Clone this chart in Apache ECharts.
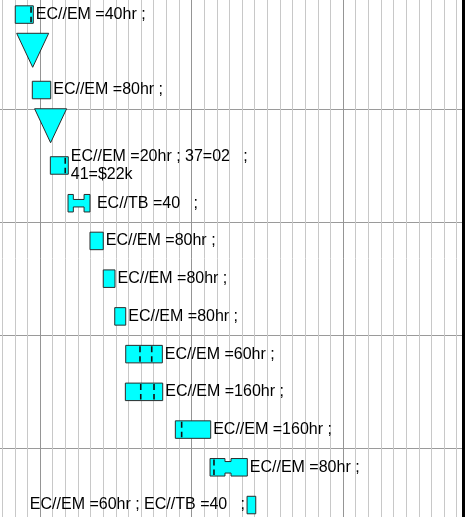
<!DOCTYPE html>
<html><head><meta charset="utf-8">
<script src="https://cdn.jsdelivr.net/npm/echarts@6/dist/echarts.min.js"></script>
<style>html,body{margin:0;padding:0;background:#fff}#c{width:471px;height:517px}</style>
</head><body><div id="c"></div>
<script>
// Rows (top to bottom)
const rowIds = ['R1','R2','R3','R4','R5','R6','R7','R8','R9','R10','R11','R12','R13','R14'];
const kinds  = ['bar','milestone','bar','milestone','bar','bar','bar','bar','bar','bar','bar','bar','bar','bar'];
const labels = [
  'EC//EM =40hr ;', '', 'EC//EM =80hr ;', '',
  'EC//EM =20hr ; 37=02   ;\n41=$22k',
  ' EC//TB =40   ;',
  'EC//EM =80hr ;', 'EC//EM =80hr ;', 'EC//EM =80hr ;',
  'EC//EM =60hr ;', 'EC//EM =160hr ;', 'EC//EM =160hr ;', 'EC//EM =80hr ;',
  'EC//EM =60hr ; EC//TB =40   ;'
];
// time in weeks (0 = major grid line)
const starts = [-1.96, -0.58, -0.61, 0.84, 0.82, 2.22, 3.96, 5.01, 5.92, 6.79, 6.76, 10.72, 13.47, 16.40];
const ends   = [-0.53, -0.58,  0.85, 0.84, 2.24, 3.96, 5.01, 5.94, 6.79, 9.69, 9.72, 13.52, 16.42, 17.09];
const splitMarks = [[-0.71], [], [], [], [2.0], [], [], [], [], [7.92, 8.85], [7.98, 9.03], [11.22], [13.78], []];
const notches = [null, null, null, null, null, [2.64, 3.49], null, null, null, null, null, null, [14.65, 15.13], null];
const labelOnLeft = [false,false,false,false,false,false,false,false,false,false,false,false,false,true];

const axisMin = -12, axisMax = 33.56;

const chart = echarts.init(document.getElementById('c'));

function renderItem(params, api) {
  const i = api.value(0);
  const p0 = api.coord([api.value(1), i]);
  const p1 = api.coord([api.value(2), i]);
  const cy = p0[1];
  const children = [];
  const stroke = '#2b2b2b';
  const fill = '#00ffff';
  if (kinds[i] === 'milestone') {
    children.push({type:'polygon', shape:{points:[[p0[0]-16, cy-19],[p0[0]+16, cy-19],[p0[0], cy+15]]},
      style:{fill, stroke, lineWidth:1}});
  } else {
    const h = 17.5, top = cy - h/2, bot = cy + h/2;
    const x0 = p0[0], x1 = p1[0];
    const n = notches[i];
    if (n) {
      const n0 = api.coord([n[0], i])[0], n1 = api.coord([n[1], i])[0];
      const d = i === 5 ? 5 : 3;
      children.push({type:'polygon', shape:{points:[
        [x0,top],[n0,top],[n0,top+d],[n1,top+d],[n1,top],[x1,top],
        [x1,bot],[n1,bot],[n1,bot-d],[n0,bot-d],[n0,bot],[x0,bot]]},
        style:{fill, stroke, lineWidth:1}});
    } else {
      children.push({type:'rect', shape:{x:x0, y:top, width:x1-x0, height:h},
        style:{fill, stroke, lineWidth:1}});
    }
    splitMarks[i].forEach(m => {
      const mx = api.coord([m, i])[0];
      children.push({type:'line', shape:{x1:mx, y1:top+1, x2:mx, y2:bot-1},
        style:{stroke:'#111', lineWidth:1.6, lineDash:[6,4]}});
    });
    if (labels[i]) {
      const left = labelOnLeft[i];
      children.push({type:'text', style:{
        text: labels[i], x: left ? x0 - 2 : x1 + 2.5, y: cy,
        fill:'#000', fontSize:16, fontFamily:'"Liberation Sans", Arial, sans-serif',
        align: left ? 'right' : 'left', verticalAlign:'middle', lineHeight:18}});
    }
  }
  return {type:'group', children};
}

chart.setOption({
  animation:false,
  backgroundColor:'#fff',
  grid:{left:-111.5, right:7.3, top:-4.3, bottom:-6.9, outerBoundsMode:'none', containLabel:false},
  xAxis:[
    {type:'value', min:axisMin, max:axisMax, interval:1, position:'bottom',
     axisLine:{show:false}, axisTick:{show:false}, axisLabel:{show:false},
     splitLine:{show:true, lineStyle:{color:'#c8c8c8', width:1}}},
    {type:'value', min:axisMin, max:axisMax, interval:12, position:'top',
     axisLine:{show:false}, axisTick:{show:false}, axisLabel:{show:false},
     splitLine:{show:true, lineStyle:{color:'#959595', width:1}}}
  ],
  yAxis:{type:'category', data:rowIds, inverse:true, position:'right',
    axisLine:{show:true, onZero:false, lineStyle:{color:'#000', width:3}},
    axisTick:{show:false}, axisLabel:{show:false},
    splitLine:{show:true, interval:2, lineStyle:{color:'#9a9a9a', width:1}}},
  series:[{
    type:'custom', xAxisIndex:0, yAxisIndex:0,
    renderItem,
    encode:{x:[1,2], y:0},
    data: rowIds.map((r, i) => [i, starts[i], ends[i]])
  }]
});
</script>
</body></html>
